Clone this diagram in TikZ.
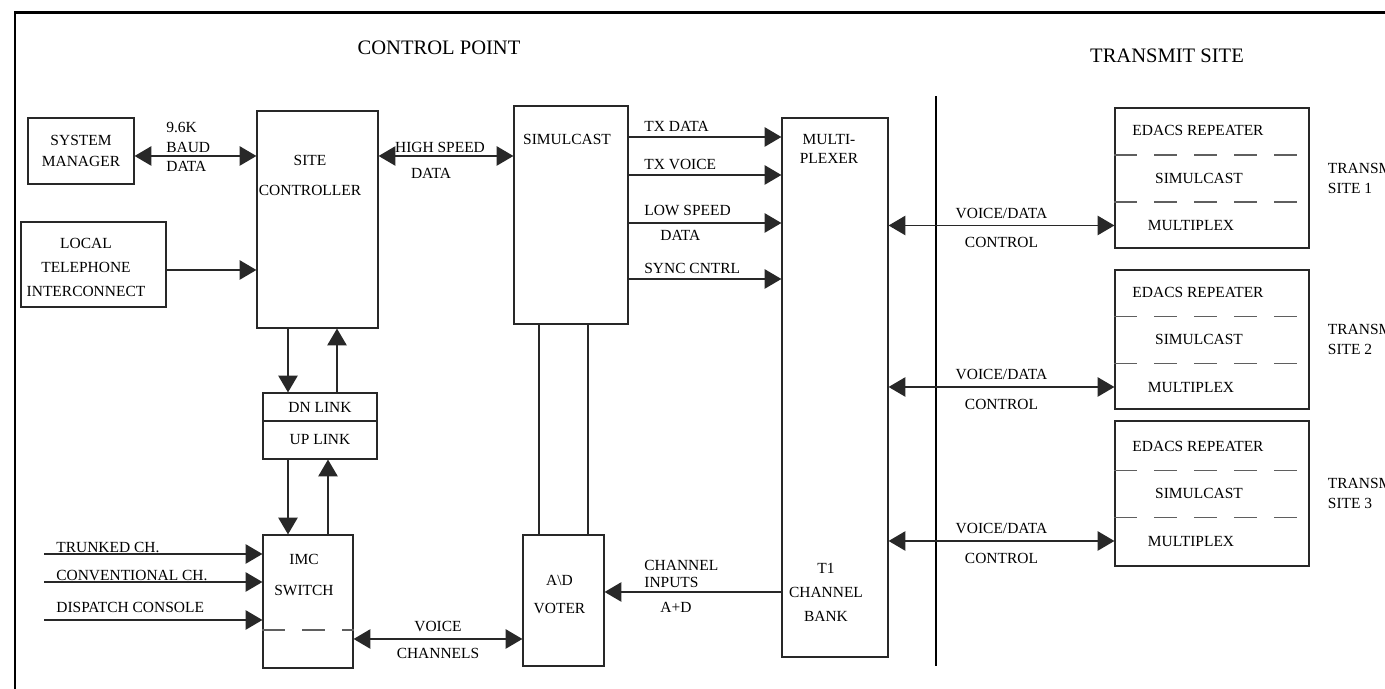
\documentclass[tikz,border=0pt]{standalone}
\usepackage{fontspec}
\setmainfont{Liberation Serif}
\usepackage{tikz}
\usetikzlibrary{arrows.meta,positioning}
\definecolor{linegray}{RGB}{40,40,40}
\definecolor{dashgray}{RGB}{95,95,95}
\newcommand{\lblfont}{\fontsize{8.8}{11.3}\selectfont}
\tikzset{
  blk/.style  ={rectangle, draw=linegray, line width=0.7pt, inner sep=0pt,
                align=center, font=\lblfont},
  lbl/.style  ={inner sep=0pt, font=\lblfont, text depth=0pt},
  ttl/.style  ={inner sep=0pt, font=\fontsize{11.7}{14}\selectfont},
  sig/.style  ={-{Triangle[length=9.5pt,width=11pt]}, line width=0.7pt, draw=linegray},
  dsig/.style ={{Triangle[length=9.5pt,width=11pt]}-{Triangle[length=9.5pt,width=11pt]},
                line width=0.7pt, draw=linegray},
  wire/.style ={line width=0.7pt, draw=linegray},
  split/.style={draw=dashgray, line width=0.7pt, dash pattern=on 0.46cm off 0.34cm},
  frame/.style={line width=1.7pt}
}

\begin{document}
\begin{tikzpicture}
\useasboundingbox (0,0) rectangle (27.7,13.78);
% page frame and headings
\draw[frame] (0.30,0) -- (0.30,13.52) -- (27.7,13.52);
\node[ttl] (cp) at (8.78,12.82) {CONTROL POINT};
\node[ttl] (ts) at (23.34,12.66) {TRANSMIT SITE};
\draw[line width=1.4pt] (18.72,0.46) -- (18.72,11.86);

% Control point blocks
\node[blk, minimum width=2.12cm, minimum height=1.32cm] (sysmgr) at (1.62,10.76) {SYSTEM\\[1pt]MANAGER};
\node[blk, minimum width=2.90cm, minimum height=1.70cm] (phone) at (1.87,8.49) {};
\node[lbl, align=center] (phonetxt) at (1.72,8.44) {LOCAL\\[2.3pt]TELEPHONE\\[2.3pt]INTERCONNECT};
\node[blk, minimum width=2.42cm, minimum height=4.34cm] (sitectl) at (6.35,9.39) {};
\node[lbl, align=center] (sitetxt) at (6.20,10.28) {SITE\\[5.7pt]CONTROLLER};
\node[blk, minimum width=2.28cm, minimum height=4.36cm] (simul) at (11.42,9.48) {};
\node[lbl] (simtxt) at (11.34,11.00) {SIMULCAST};
\node[blk, minimum width=2.12cm, minimum height=10.78cm] (mux) at (16.70,6.03) {};
\node[lbl, align=center] (muxtxt) at (16.58,10.81) {MULTI-\\[-0.5pt]PLEXER};
\node[lbl, align=center] (t1txt) at (16.52,1.93) {T1\\[2.5pt]CHANNEL\\[2.5pt]BANK};
\node[blk, minimum width=2.28cm, minimum height=0.56cm] (dnlink) at (6.40,5.64) {DN LINK};
\node[blk, minimum width=2.28cm, minimum height=0.76cm, below=-0.7pt of dnlink] (uplink) {UP LINK};
\node[blk, minimum width=1.80cm, minimum height=2.66cm] (imc) at (6.16,1.75) {};
\node[lbl, align=center] (imctxt) at (6.08,2.29) {IMC\\[6.3pt]SWITCH};
\node[blk, minimum width=1.62cm, minimum height=2.62cm] (voter) at (11.27,1.77) {};
\node[lbl, align=center] (votertxt) at (11.19,1.90) {A\textbackslash D\\[4.6pt]VOTER};

% Site manager / telephone / high speed links
\coordinate (smA) at ([yshift=-0.10cm]sysmgr.east);
\draw[dsig] (smA) -- (smA -| sitectl.west);
\node[lbl, align=left, anchor=west] (baud) at (3.32,10.84) {9.6K\\BAUD\\DATA};
\coordinate (phA) at ([yshift=-0.11cm]phone.east);
\draw[sig] (phA) -- (phA -| sitectl.west);
\draw[dsig] (sitectl.east |- smA) -- (simul.west |- smA);
\node[lbl] (hs1) at (8.80,10.84) {HIGH SPEED};
\node[lbl] (hs2) at (8.62,10.32) {DATA};

% Simulcast to multiplexer
\foreach \n/\y in {a/11.04,b/10.28,c/9.32,d/8.20}{
  \coordinate (tx\n) at (14,\y);
  \draw[sig] (simul.east |- tx\n) -- (mux.west |- tx\n);
}
\node[lbl, anchor=west] (txd) at (12.88,11.26) {TX DATA};
\node[lbl, anchor=west] (txv) at (12.88,10.50) {TX VOICE};
\node[lbl, anchor=west] (lsd) at (12.88,9.58) {LOW SPEED};
\node[lbl, anchor=west] (lsd2) at (13.20,9.08) {DATA};
\node[lbl, anchor=west] (sync) at (12.88,8.42) {SYNC CNTRL};

% Down / up links
\coordinate (dnA) at ([xshift=-0.59cm]sitectl.south);
\coordinate (upA) at ([xshift=0.39cm]sitectl.south);
\draw[sig] (dnA) -- (dnA |- dnlink.north);
\draw[sig] (upA |- dnlink.north) -- (upA);
\coordinate (dnB) at ([xshift=-0.40cm]imc.north);
\coordinate (upB) at ([xshift=0.40cm]imc.north);
\draw[sig] (dnB |- uplink.south) -- (dnB);
\draw[sig] (upB) -- (upB |- uplink.south);

% Channel inputs to the IMC switch
\foreach \n/\y/\ly/\t in {trk/2.70/2.84/TRUNKED CH.,conv/2.14/2.28/CONVENTIONAL CH.,disp/1.38/1.64/DISPATCH CONSOLE}{
  \coordinate (\n) at (0.88,\y);
  \node[lbl, anchor=west] (\n txt) at (1.12,\ly) {\t};
  \draw[sig] (\n) -- (imc.west |- \n);
}
\draw[split] ([yshift=-0.57cm]imc.west) -- ([yshift=-0.57cm]imc.east);
\coordinate (vc) at ([yshift=-0.75cm]imc.east);
\draw[dsig] (vc) -- (vc -| voter.west)
  node[lbl, midway, above=3.9pt] (vctxt) {VOICE}
  node[lbl, midway, below=5pt] (chtxt2) {CHANNELS};

% Simulcast -- voter, channel bank -- voter
\coordinate (swA) at ([xshift=-0.64cm]simul.south);
\coordinate (swB) at ([xshift=0.34cm]simul.south);
\draw[wire] (swA) -- (swA |- voter.north);
\draw[wire] (swB) -- (swB |- voter.north);
\coordinate (chin) at ([yshift=0.17cm]voter.east);
\draw[sig] (chin -| mux.west) -- (chin);
\node[lbl, align=left, anchor=west] (chtxt) at (12.88,2.31) {CHANNEL\\[-1.7pt]INPUTS};
\node[lbl] (adtxt) at (13.52,1.64) {A+D};

% Transmit sites
\foreach \i/\y/\h in {1/10.22/2.80,2/6.99/2.78,3/3.91/2.90}{
  \node[blk, minimum width=3.88cm, minimum height=\h cm] (rep\i) at (24.24,\y) {};
  \node[lbl] (edacs\i) at (23.96,\y+0.95) {EDACS REPEATER};
  \draw[split] ([yshift=0.46cm]rep\i.west) -- ([yshift=0.46cm]rep\i.east);
  \node[lbl] (sc\i) at (23.98,\y) {SIMULCAST};
  \draw[split] ([yshift=-0.48cm]rep\i.west) -- ([yshift=-0.48cm]rep\i.east);
  \node[lbl] (mp\i) at (23.82,\y-0.95) {MULTIPLEX};
  \node[lbl, align=left, right=0.36cm of rep\i.east] (site\i) {TRANSMIT\\SITE \i};
  \draw[dsig] (mux.east |- mp\i) -- (rep\i.west |- mp\i)
    node[lbl, midway, above=3.9pt] (vd\i) {VOICE/DATA}
    node[lbl, midway, below=6.5pt] (ctl\i) {CONTROL};
}
\end{tikzpicture}
\end{document}
